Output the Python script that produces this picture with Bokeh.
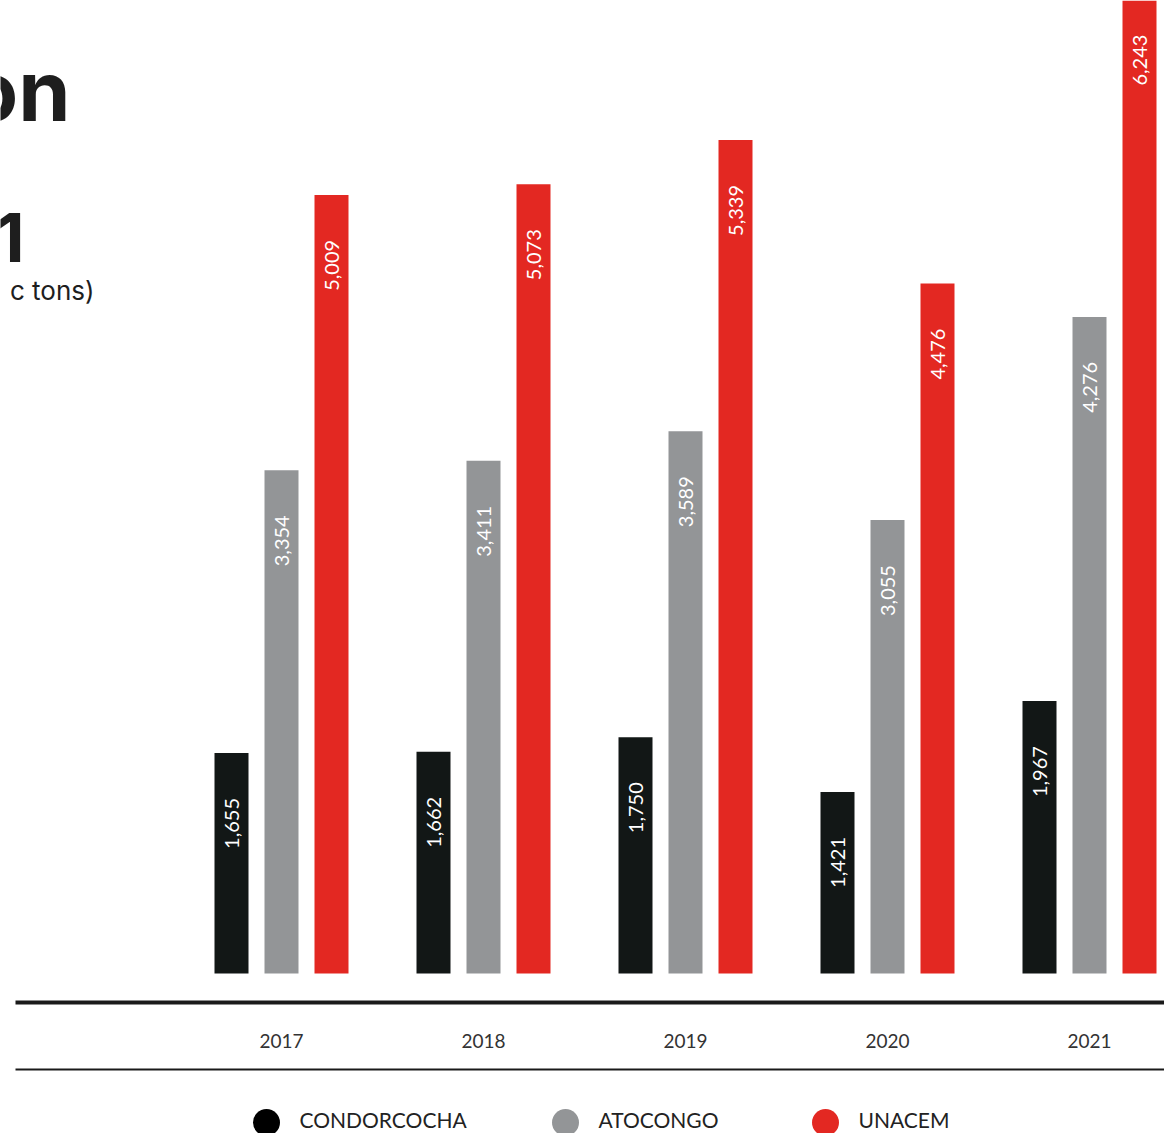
import math
from bokeh.plotting import figure
from bokeh.models import ColumnDataSource, Range1d
from bokeh.core.properties import value
from bokeh.embed import file_html
from bokeh.resources import INLINE

# ---- data ----
years = ["2017", "2018", "2019", "2020", "2021"]
condorcocha = [1655, 1662, 1750, 1421, 1967]
atocongo = [3354, 3411, 3589, 3055, 4276]
unacem = [5009, 5073, 5339, 4476, 6243]
series_names = ["CONDORCOCHA", "ATOCONGO", "UNACEM"]
series_colors = ["#121716", "#939597", "#E32822"]
legend_colors = ["#000000", "#939597", "#E32822"]
title_fragments = ["on", "1", "c tons)"]

W, H = 1164, 1133
# pixel <-> data helpers (layout only)
X0PX, XSTEP = 281.0, 202.0
BASE_PX, SCALE, V0 = 973.0, 0.1664, 330.0


def px2x(px):
    return (px - X0PX) / XSTEP


def py2y(py):
    return V0 + (BASE_PX - py) / SCALE


p = figure(width=W, height=H, output_backend="svg", toolbar_location=None,
           x_range=Range1d(px2x(0), px2x(W)), y_range=Range1d(py2y(H), py2y(0)),
           min_border=0, min_border_left=0, min_border_right=0,
           min_border_top=0, min_border_bottom=0)
p.axis.visible = False
p.grid.visible = False
p.outline_line_color = None
p.background_fill_color = "white"
p.border_fill_color = "white"

FONT = "Lato"
TFONT = "Inter"
offsets = [-50 / XSTEP, 0.0, 50 / XSTEP]
bar_w = 34 / XSTEP
all_series = [condorcocha, atocongo, unacem]

for vals, off, col in zip(all_series, offsets, series_colors):
    xs = [i + off for i in range(len(years))]
    src = ColumnDataSource(dict(
        x=xs, top=vals,
        ly=[v - 45 / SCALE for v in vals],
        lab=[f"{v:,}" for v in vals]))
    p.vbar(x="x", top="top", bottom=V0, width=bar_w, source=src,
           fill_color=col, line_color=None)
    p.text(x="x", y="ly", text="lab", source=src, angle=math.pi / 2,
           text_align="right", text_baseline="middle", text_color="white",
           text_font=value(FONT), text_font_size="20px")

# horizontal rules
p.line(x=[px2x(15), px2x(W)], y=[py2y(1002)] * 2, line_color="#1a1a1a", line_width=4)
p.line(x=[px2x(15), px2x(W)], y=[py2y(1069)] * 2, line_color="#1a1a1a", line_width=2)

# year labels
ysrc = ColumnDataSource(dict(x=list(range(len(years))), y=[py2y(1040)] * len(years), t=years))
p.text(x="x", y="y", text="t", source=ysrc, text_align="center", text_baseline="middle",
       text_color="#333333", text_font=value(FONT), text_font_size="19px")

# legend
leg_px = [266, 565, 825]
for name, col, lx in zip(series_names, legend_colors, leg_px):
    p.scatter(x=[px2x(lx)], y=[py2y(1122)], size=27, marker="circle",
              fill_color=col, line_color=None)
    p.text(x=[px2x(lx + 33)], y=[py2y(1119)], text=[name], text_align="left",
           text_baseline="middle", text_color="#222222", text_font=value(FONT),
           text_font_size="21px")

# visible (cropped) title fragments
p.text(x=[px2x(70)], y=[py2y(90)], text=[title_fragments[0]], text_align="right",
       text_baseline="alphabetic", text_color="#1e1e1e", text_font=value(TFONT),
       text_font_size="84px", text_font_style="bold")
p.text(x=[px2x(24)], y=[py2y(237)], text=[title_fragments[1]], text_align="right",
       text_baseline="alphabetic", text_color="#1e1e1e", text_font=value(TFONT),
       text_font_size="68px", text_font_style="bold")
p.text(x=[px2x(94)], y=[py2y(290)], text=[title_fragments[2]], text_align="right",
       text_baseline="alphabetic", text_color="#1e1e1e", text_font=value(TFONT),
       text_font_size="26px")

open("out.html", "w").write(file_html(p, INLINE))
